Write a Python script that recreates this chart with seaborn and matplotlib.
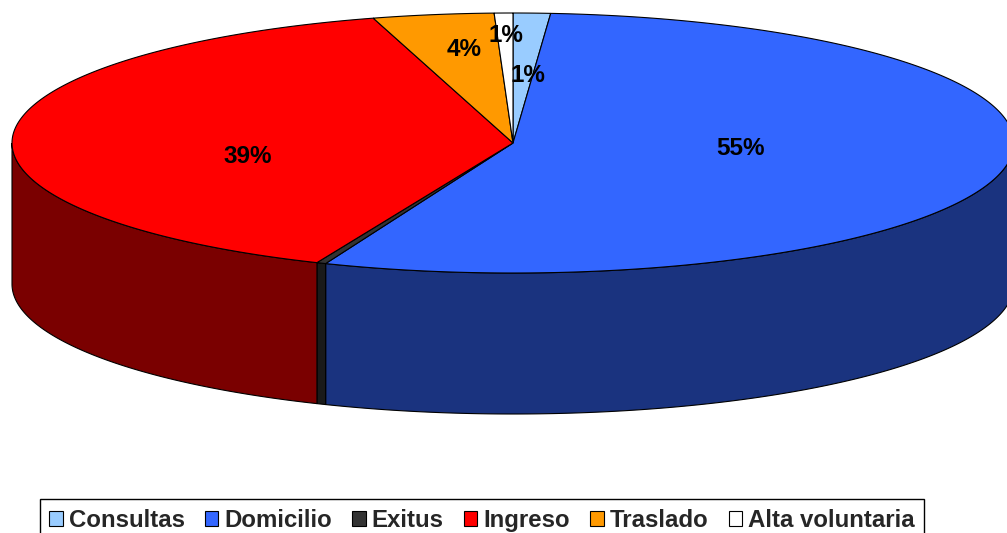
import numpy as np
import matplotlib
matplotlib.use("Agg")
import matplotlib.pyplot as plt
import seaborn as sns
from matplotlib.patches import Patch
from matplotlib.font_manager import FontProperties

# ---------------- data ----------------
categories = ["Consultas", "Domicilio", "Exitus", "Ingreso", "Traslado", "Alta voluntaria"]
values = [1.2, 54.9, 0.3, 39.1, 3.9, 0.6]          # percent

# ---------------- style ----------------
top_colors = ["#99CCFF", "#3366FF", "#333333", "#FF0000", "#FF9900", "#FFFFFF"]
side_colors = ["#4C667F", "#1A337F", "#1A1A1A", "#7A0000", "#7F4C00", "#7F7F7F"]

sns.set_theme(style="white")
plt.rcParams["font.family"] = ["Liberation Sans", "DejaVu Sans"]

# geometry of the 3-D pie (in pixel-like data units)
CX, CY, RX, RY, DEPTH = 513, 143, 501, 130, 141
START = 90.0   # degrees, clockwise

# label layout (radial fraction, vertical shift) per slice
label_r = [0.79, 0.467, 0.5, 0.53, 0.613, 0.74]
label_dy = [35, -8, 0, 18, -15, -11.5]

fig = plt.figure(figsize=(10.07, 5.33), dpi=100)
ax = fig.add_axes([0, 0, 1, 1])
ax.set_xlim(0, 1007)
ax.set_ylim(533, 0)
ax.axis("off")


def ell(theta_deg, dz=0.0):
    t = np.radians(theta_deg)
    return CX + RX * np.cos(t), CY - RY * np.sin(t) + dz


total = float(sum(values))
bounds = []
cur = START
for v in values:
    span = v / total * 360.0
    bounds.append((cur, cur - span))
    cur -= span

# side walls (front half only)
for (t0, t1), sc in zip(bounds, side_colors):
    for k in range(-2, 3):
        lo = max(t1, -180 + 360 * k)
        hi = min(t0, 360 * k)
        if lo < hi:
            th = np.linspace(lo, hi, 300)
            xt, yt = ell(th)
            xb, yb = ell(th, DEPTH)
            xs = np.concatenate([xt, xb[::-1]])
            ys = np.concatenate([yt, yb[::-1]])
            ax.fill(xs, ys, facecolor=sc, edgecolor="black", linewidth=0.8, zorder=1)

# top faces
for (t0, t1), tc in zip(bounds, top_colors):
    th = np.linspace(t0, t1, 400)
    xt, yt = ell(th)
    xs = np.concatenate([[CX], xt, [CX]])
    ys = np.concatenate([[CY], yt, [CY]])
    ax.fill(xs, ys, facecolor=tc, edgecolor="black", linewidth=0.8, zorder=2)

# percentage labels
lab_font = FontProperties(family="Liberation Sans", weight="bold", size=17.5)
for (t0, t1), v, r, dy in zip(bounds, values, label_r, label_dy):
    if v < 0.5:
        continue
    mid = np.radians((t0 + t1) / 2)
    x = CX + r * RX * np.cos(mid)
    y = CY - r * RY * np.sin(mid) + dy
    txt = f"{int(np.floor(v + 0.5))}%"
    ax.text(x, y, txt, ha="center", va="center", fontproperties=lab_font, color="black", zorder=3)

# legend
handles = [Patch(facecolor=c, edgecolor="black", linewidth=0.8) for c in top_colors]
leg = fig.legend(handles, categories, loc="upper center",
                 bbox_to_anchor=(482 / 1007, 1 - 499 / 533), ncol=6,
                 frameon=True, fancybox=False, edgecolor="black", framealpha=1,
                 prop=FontProperties(family="Liberation Sans", weight="bold", size=17.3),
                 handlelength=0.55, handleheight=0.6, handletextpad=0.25,
                 columnspacing=0.85, borderpad=0.4, borderaxespad=0)
leg.get_frame().set_linewidth(1.0)

fig.savefig("out.png", dpi=100)
